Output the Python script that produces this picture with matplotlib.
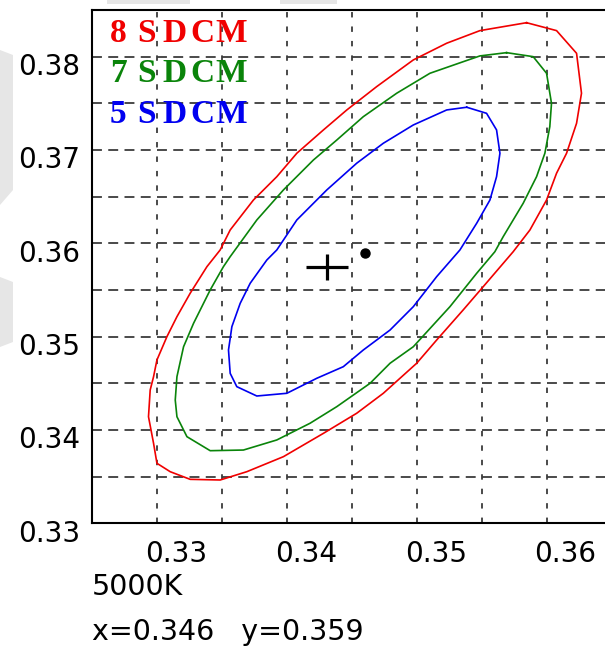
import numpy as np
import matplotlib
matplotlib.use("Agg")
import matplotlib.pyplot as plt
from matplotlib.path import Path
from matplotlib.patches import Polygon
import matplotlib.transforms as mtransforms

# Контуры SDCM вокруг 5000K
x8 = [0.35846, 0.36077, 0.36231, 0.36269, 0.36231, 0.36154, 0.36077, 0.36000, 0.35872, 0.35743,
      0.35512, 0.35358, 0.35154, 0.35000, 0.34743, 0.34538, 0.34282, 0.33974, 0.33692, 0.33487,
      0.33256, 0.33102, 0.33000, 0.32974, 0.32935, 0.32948, 0.32974, 0.33000, 0.33077, 0.33154,
      0.33256, 0.33385, 0.33487, 0.33564, 0.33743, 0.33923, 0.34077, 0.34282, 0.34462, 0.34692,
      0.34974, 0.35231, 0.35487]
y8 = [0.38364, 0.38279, 0.38036, 0.37608, 0.37286, 0.36965, 0.36751, 0.36464, 0.36143, 0.35910,
      0.35535, 0.35286, 0.34964, 0.34715, 0.34393, 0.34179, 0.33964, 0.33714, 0.33553, 0.33464,
      0.33471, 0.33553, 0.33643, 0.33857, 0.34142, 0.34428, 0.34571, 0.34750, 0.35000, 0.35214,
      0.35465, 0.35750, 0.35929, 0.36143, 0.36464, 0.36714, 0.36965, 0.37215, 0.37429, 0.37679,
      0.37965, 0.38144, 0.38279]

x7 = [0.35692, 0.35897, 0.36000, 0.36038, 0.36025, 0.35987, 0.35923, 0.35820, 0.35666, 0.35602,
      0.35462, 0.35256, 0.34974, 0.34795, 0.34641, 0.34385, 0.34179, 0.33923, 0.33666, 0.33410,
      0.33231, 0.33154, 0.33141, 0.33154, 0.33205, 0.33282, 0.33410, 0.33512, 0.33564, 0.33769,
      0.33974, 0.34205, 0.34385, 0.34589, 0.34846, 0.35102, 0.35358, 0.35487]
y7 = [0.38043, 0.38000, 0.37822, 0.37500, 0.37250, 0.36965, 0.36714, 0.36429, 0.36071, 0.35910,
      0.35679, 0.35321, 0.34892, 0.34715, 0.34500, 0.34250, 0.34072, 0.33893, 0.33785, 0.33778,
      0.33928, 0.34142, 0.34321, 0.34571, 0.34892, 0.35143, 0.35500, 0.35750, 0.35857, 0.36250,
      0.36572, 0.36893, 0.37107, 0.37357, 0.37608, 0.37822, 0.37946, 0.38008]

x5 = [0.35385, 0.35538, 0.35615, 0.35641, 0.35615, 0.35564, 0.35462, 0.35333, 0.35154, 0.34974,
      0.34795, 0.34589, 0.34435, 0.34231, 0.34000, 0.33769, 0.33615, 0.33564, 0.33551, 0.33577,
      0.33641, 0.33718, 0.33846, 0.33923, 0.34077, 0.34308, 0.34538, 0.34743, 0.34974, 0.35231]
y5 = [0.37458, 0.37393, 0.37215, 0.36965, 0.36714, 0.36464, 0.36215, 0.35929, 0.35643, 0.35321,
      0.35071, 0.34857, 0.34678, 0.34554, 0.34393, 0.34364, 0.34464, 0.34607, 0.34857, 0.35107,
      0.35357, 0.35572, 0.35821, 0.35929, 0.36250, 0.36572, 0.36858, 0.37072, 0.37268, 0.37429]

# центр и измеренная точка
center_x, center_y = 0.34312, 0.35747
point_x, point_y = 0.346, 0.359

labels = ['8SDCM', '7SDCM', '5SDCM']
colors = ['#f00000', '#0a840a', '#0000f0']

fig = plt.figure(figsize=(6.05, 6.53), dpi=100)

# серые куски интерфейса по краям скриншота
gray = '#e6e6e6'
fig.patches.append(Polygon([(0, 1 - 50/653), (13/605, 1 - 55/653), (13/605, 1 - 190/653),
                            (0, 1 - 205/653)], closed=True, transform=fig.transFigure,
                           facecolor=gray, edgecolor='none'))
fig.patches.append(Polygon([(0, 1 - 277/653), (13/605, 1 - 282/653), (13/605, 1 - 342/653),
                            (0, 1 - 347/653)], closed=True, transform=fig.transFigure,
                           facecolor=gray, edgecolor='none'))
for a, b in [(107, 190), (280, 337)]:
    fig.patches.append(Polygon([(a/605, 1), (b/605, 1), (b/605, 1 - 4/653), (a/605, 1 - 4/653)],
                               closed=True, transform=fig.transFigure,
                               facecolor=gray, edgecolor='none'))

ax = fig.add_axes([92/605, 1 - 523.3/653, 513/605, 513.3/653])
ax.set_xlim(0.325, 0.3645)
ax.set_ylim(0.33, 0.385)

for xs, ys, c in [(x8, y8, colors[0]), (x7, y7, colors[1]), (x5, y5, colors[2])]:
    ax.plot(xs + xs[:1], ys + ys[:1], color=c, lw=1.2, zorder=3)

plus = Path([(-1.55, 0), (1.55, 0), (0, -1), (0, 1)],
            [Path.MOVETO, Path.LINETO, Path.MOVETO, Path.LINETO])
ax.plot([center_x], [center_y], marker=plus, ms=30, mew=2.3, color='black', ls='none', zorder=4)
ax.plot([point_x], [point_y], marker='o', ms=6.5, color='black', ls='none', zorder=4)

# сетка через каждые 0.005
ax.set_xticks(np.arange(0.33, 0.3601, 0.01))
ax.set_xticks([0.335, 0.345, 0.355], minor=True)
ax.set_yticks(np.arange(0.33, 0.3801, 0.01))
ax.set_yticks(np.arange(0.335, 0.3801, 0.01), minor=True)
ax.set_xticklabels(['0.33', '0.34', '0.35', '0.36'])
ax.set_yticklabels(['0.33', '0.34', '0.35', '0.36', '0.37', '0.38'])
ax.set_axisbelow(True)
ax.xaxis.grid(True, which='both', color='#3c3c3c', lw=1.3, ls=(0, (3, 5)))
ax.yaxis.grid(True, which='both', color='#3c3c3c', lw=1.3, ls=(0, (5.5, 3.5)))
ax.tick_params(which='both', length=0)
ax.tick_params(axis='x', pad=12, labelsize=20)
ax.tick_params(axis='y', pad=8.5, labelsize=20)

for lab in ax.get_xticklabels():
    lab.set_transform(lab.get_transform() +
                      mtransforms.ScaledTranslation(0.19, 0, fig.dpi_scale_trans))
for lab in ax.get_yticklabels():
    lab.set_transform(lab.get_transform() +
                      mtransforms.ScaledTranslation(0, -0.075, fig.dpi_scale_trans))

for s in ['left', 'bottom', 'top']:
    ax.spines[s].set_linewidth(1.5)
ax.spines['right'].set_visible(False)

# подписи SDCM буква за буквой (в оригинале разрежены)
char_left = [110, 137, 162, 190, 215]
baselines = [41.7, 81.7, 123]
for txt, c, base in zip(labels, colors, baselines):
    for ch, px in zip(txt, char_left):
        fig.text(px/605, 1 - base/653, ch, color=c, fontsize=24, fontweight='bold',
                 family='Liberation Serif', ha='left', va='baseline')

fig.text(92/605, 1 - 595/653, '5000K', fontsize=20.5, ha='left', va='baseline')
fig.text(92/605, 1 - 640/653, 'x=0.346   y=0.359', fontsize=20.5, ha='left', va='baseline')

fig.savefig('out.png', dpi=100)
